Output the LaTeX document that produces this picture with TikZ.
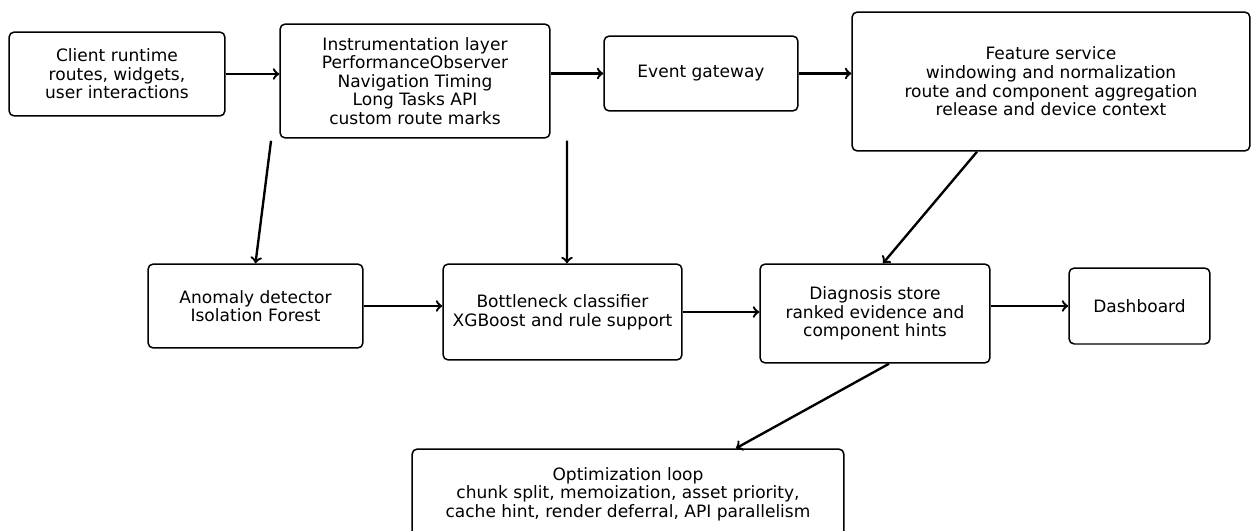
\documentclass[tikz,border=0pt]{standalone}
\usepackage{fontspec}
\setmainfont{DejaVu Sans}
\usetikzlibrary{arrows,positioning}

\begin{document}
\begin{tikzpicture}[->, >=to, x=0.02cm, y=-0.02cm, line width=1.35pt]
      \tikzstyle{block}=[draw=black, line width=0.85pt, rounded corners=3pt, align=center, inner sep=0pt,
        font=\fontsize{9.7}{10.6}\selectfont]
      \useasboundingbox (0,0) rectangle (1252,531);

      % top row
      \node[block, minimum width=4.32cm, minimum height=1.68cm] (client) at (117,74) {Client runtime\\routes, widgets,\\user interactions};
      \node[block, minimum width=5.4cm, minimum height=2.28cm] (instr) at (415,81) {Instrumentation layer\\PerformanceObserver\\Navigation Timing\\Long Tasks API\\custom route marks};
      \node[block, minimum width=3.88cm, minimum height=1.5cm] (gateway) at (701,73.5) {Event gateway};
      \node[block, minimum width=7.96cm, minimum height=2.78cm] (feature) at (1051,81.5) {Feature service\\windowing and normalization\\route and component aggregation\\release and device context};

      % middle row
      \node[block, minimum width=4.3cm, minimum height=1.68cm] (anomaly) at (255.5,306) {Anomaly detector\\Isolation Forest};
      \node[block, minimum width=4.78cm, minimum height=1.92cm] (classifier) at (562.5,312) {Bottleneck classifier\\XGBoost and rule support};
      \node[block, minimum width=4.6cm, minimum height=1.98cm] (diagnosis) at (875,313.5) {Diagnosis store\\ranked evidence and\\component hints};
      \node[block, minimum width=2.82cm, minimum height=1.52cm] (dashboard) at (1139.5,306) {Dashboard};

      % bottom
      \node[block, minimum width=8.64cm, minimum height=1.8cm] (optim) at (628,494) {Optimization loop\\chunk split, memoization, asset priority,\\cache hint, render deferral, API parallelism};

      \draw (client) -- (client.east -| instr.west);
      \draw (instr.east |- gateway.west) -- (gateway);
      \draw (gateway) -- (feature.west |- gateway.east);
      \draw ([xshift=-2.88cm,yshift=-0.04cm]instr.south) -- (anomaly.north);
      \draw ([xshift=3.04cm,yshift=-0.04cm]instr.south) -- ([xshift=0.09cm]classifier.north);
      \draw ([xshift=-1.48cm]feature.south) -- ([xshift=0.16cm]diagnosis.north);
      \draw (anomaly.east) -- (anomaly.east -| classifier.west);
      \draw (classifier) -- (classifier.east -| diagnosis.west);
      \draw (diagnosis.east |- dashboard.west) -- (dashboard);
      \draw ([xshift=0.28cm]diagnosis.south) -- ([xshift=2.16cm]optim.north);

      \end{tikzpicture}
\end{document}
